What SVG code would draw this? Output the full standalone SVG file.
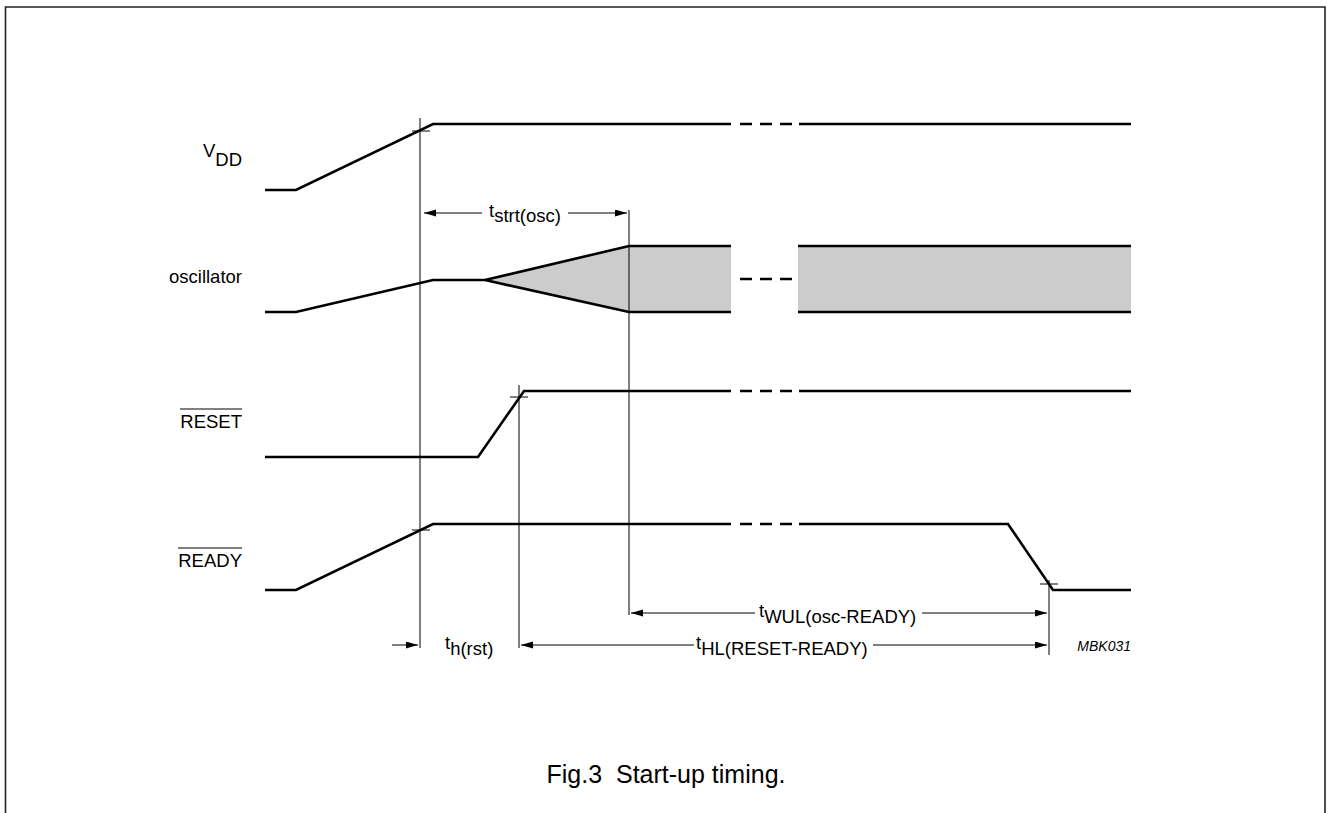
<svg xmlns="http://www.w3.org/2000/svg" width="1327" height="813" viewBox="0 0 1327 813">
<style>
text{font-family:"Liberation Sans",Arial,sans-serif;font-size:18.5px;fill:#000}
text.mbk{font-size:14px;font-style:italic}
text.cap{font-size:25px}
.sig{fill:none;stroke:#000;stroke-width:2.6;stroke-linejoin:miter}
.brk{fill:none;stroke:#000;stroke-width:2.6;stroke-dasharray:12 8}
.thin{fill:none;stroke:#000;stroke-width:1}
.dim{fill:none;stroke:#000;stroke-width:1;marker-end:url(#ah)}
.box{fill:#cccccc;stroke:none}
</style>
<defs>
<marker id="ah" markerUnits="userSpaceOnUse" markerWidth="13" markerHeight="8" refX="12" refY="3.5" orient="auto">
<path d="M0,0 L12,3.5 L0,7 Z" fill="#000"/>
</marker>
</defs>
<rect x="0" y="0" width="1327" height="813" fill="#fff"/>
<path d="M5.5,813 V7 H1325 V813" fill="none" stroke="#222" stroke-width="1.6"/>

<g id="vdd">
<text x="242" y="157" text-anchor="end">V<tspan dy="9">DD</tspan></text>
<path class="sig" d="M265,190 H296 L433,124 H731 M799,124 H1131"/>
<path class="brk" d="M740,124 H793"/>
</g>

<g id="oscillator">
<text x="242" y="283" text-anchor="end">oscillator</text>
<path class="box" d="M485,280 L629,246 H731 V312 H629 Z"/>
<rect class="box" x="798" y="246" width="333" height="66"/>
<path class="sig" d="M265,312 H296 L433,280 H485 L629,246 H731 M485,280 L629,312 H731 M798,246 H1131 M798,312 H1131"/>
<path class="brk" d="M740,279 H793"/>
</g>

<g id="reset">
<text x="242" y="428" text-anchor="end">RESET</text>
<line class="thin" x1="180" y1="409" x2="242" y2="409"/>
<path class="sig" d="M265,457 H478 L524,391 H731 M799,391 H1131"/>
<path class="brk" d="M740,391 H793"/>
</g>

<g id="ready">
<text x="242" y="567" text-anchor="end">READY</text>
<line class="thin" x1="178" y1="548" x2="242" y2="548"/>
<path class="sig" d="M265,590 H296 L433,524 H731 M799,524 H1008 L1053,590 H1131"/>
<path class="brk" d="M740,524 H793"/>
</g>

<g id="connectors">
<path class="thin" d="M420,118 V648 M519,385 V648 M629,210 V615 M1049,580 V655"/>
<path class="thin" d="M412,131 H430 M510,397 H528 M412,530 H430 M1040,584 H1058"/>
<line class="dim" x1="482" y1="213" x2="424" y2="213"/>
<line class="dim" x1="568" y1="213" x2="627" y2="213"/>
<line class="dim" x1="392" y1="645" x2="418" y2="645"/>
<line class="dim" x1="694" y1="645" x2="521" y2="645"/>
<line class="dim" x1="873" y1="645" x2="1047" y2="645"/>
<line class="dim" x1="755" y1="613" x2="631" y2="613"/>
<line class="dim" x1="922" y1="613" x2="1047" y2="613"/>
</g>

<g id="labels">
<text x="489" y="217">t<tspan dy="5">strt(osc)</tspan></text>
<text x="445" y="649">t<tspan dy="6">h(rst)</tspan></text>
<text x="696" y="649">t<tspan dy="6">HL(RESET-READY)</tspan></text>
<text x="759" y="617">t<tspan dy="6">WUL(osc-READY)</tspan></text>
<text class="mbk" x="1131" y="651" text-anchor="end">MBK031</text>
<text class="cap" x="666" y="783" text-anchor="middle" xml:space="preserve">Fig.3  Start-up timing.</text>
</g>
</svg>
